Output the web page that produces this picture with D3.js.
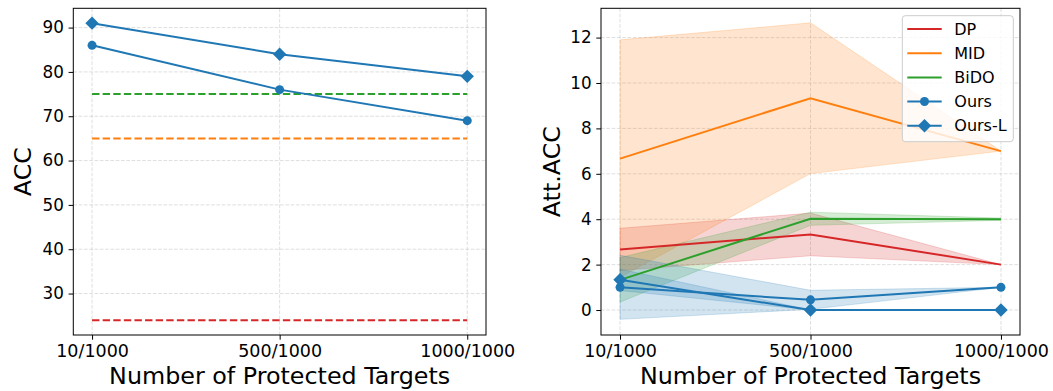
<!DOCTYPE html>
<html><head><meta charset="utf-8">
<script src="https://cdn.jsdelivr.net/npm/d3@7"></script>
<style>body{margin:0;background:#fff}svg{display:block}text{font-family:"DejaVu Sans",sans-serif}</style>
</head><body><svg id="c" width="1053" height="391"></svg>
<script>
const categories = ["10/1000","500/1000","1000/1000"];
// Left panel: ACC
const accOurs  = [86, 76, 69];
const accOursL = [91, 84, 79];
const accDP = 24, accMID = 65, accBiDO = 75;
const leftTicks = [30,40,50,60,70,80,90];
// Right panel: Att.ACC (mean, std)
const dpMean = [2.67, 3.33, 2.0],   dpStd = [0.93, 0.94, 0.0];
const midMean = [6.67, 9.33, 7.0],  midStd = [5.23, 3.32, 0.0];
const bidoMean = [1.33, 4.02, 4.0], bidoStd = [0.98, 0.29, 0.05];
const oursMean = [1.0, 0.45, 1.0],  oursStd = [1.41, 0.42, 0.0];
const oursLMean = [1.33, 0.0, 0.0], oursLStd = [0.47, 0.0, 0.0];
const rightTicks = [0,2,4,6,8,10,12];

const C = {blue:"#1f77b4", orange:"#ff7f0e", green:"#2ca02c", red:"#d62728"};
const svg = d3.select("#c");

function panel(cfg){
  const g = svg.append("g");
  const x = d3.scaleLinear().domain([-0.1, 2.1]).range([cfg.x0, cfg.x1]);
  const y = d3.scaleLinear().domain(cfg.ydom).range([cfg.y1, cfg.y0]);
  const grid = g.append("g").attr("stroke","#b0b0b0").attr("stroke-opacity",0.5).attr("stroke-width",0.8).attr("stroke-dasharray","3.7,1.6");
  categories.forEach((c,i)=>grid.append("line").attr("x1",x(i)).attr("x2",x(i)).attr("y1",cfg.y0).attr("y2",cfg.y1));
  cfg.ticks.forEach(t=>grid.append("line").attr("y1",y(t)).attr("y2",y(t)).attr("x1",cfg.x0).attr("x2",cfg.x1));
  const xa = g.append("g").attr("transform",`translate(0,${cfg.y1})`)
    .call(d3.axisBottom(x).tickValues([0,1,2]).tickFormat(i=>categories[i]).tickSize(4.7).tickPadding(4.7));
  const ya = g.append("g").attr("transform",`translate(${cfg.x0},0)`)
    .call(d3.axisLeft(y).tickValues(cfg.ticks).tickSize(4.7).tickPadding(4.7));
  [xa,ya].forEach(a=>{a.select(".domain").remove();a.selectAll("text").attr("fill","#000").style("font-family","DejaVu Sans");a.selectAll("line").attr("stroke","#000").attr("stroke-width",1);});
  xa.selectAll("text").attr("font-size","17.5px").attr("dy","0.71em");
  ya.selectAll("text").attr("font-size","16.8px");
  g.append("rect").attr("x",cfg.x0).attr("y",cfg.y0).attr("width",cfg.x1-cfg.x0).attr("height",cfg.y1-cfg.y0).attr("fill","none").attr("stroke","#000").attr("stroke-width",1);
  g.append("text").attr("x",(cfg.x0+cfg.x1)/2).attr("y",383.5).attr("text-anchor","middle").attr("font-size","23.8px").text("Number of Protected Targets");
  g.append("text").attr("transform",`translate(${cfg.ylx},${(cfg.y0+cfg.y1)/2}) rotate(-90)`).attr("text-anchor","middle").attr("font-size","23.8px").text(cfg.ylabel);
  const body = g.append("g");
  return {x,y,g:body};
}

function markers(g, x, y, vals, type){
  if(type==="circle"){
    g.selectAll(null).data(vals).enter().append("circle").attr("cx",(d,i)=>x(i)).attr("cy",d=>y(d)).attr("r",4.5).attr("fill",C.blue);
  } else {
    g.selectAll(null).data(vals).enter().append("path").attr("d",d3.symbol(d3.symbolSquare, 90)).attr("transform",(d,i)=>`translate(${x(i)},${y(d)}) rotate(45)`).attr("fill",C.blue);
  }
}

// Left
const L = panel({x0:73.3,x1:486,y0:8.3,y1:335,ydom:[20.65,94.35],ticks:leftTicks,ylabel:"ACC",ylx:30.7});
const line = (x,y)=>d3.line().x((d,i)=>x(i)).y(d=>y(d));
[[accBiDO,C.green],[accMID,C.orange],[accDP,C.red]].forEach(([v,c])=>{
  L.g.append("line").attr("x1",L.x(0)).attr("x2",L.x(2)).attr("y1",L.y(v)).attr("y2",L.y(v)).attr("stroke",c).attr("stroke-width",2).attr("stroke-dasharray","7.4,3.2");
});
L.g.append("path").attr("d",line(L.x,L.y)(accOurs)).attr("fill","none").attr("stroke",C.blue).attr("stroke-width",2);
markers(L.g,L.x,L.y,accOurs,"circle");
L.g.append("path").attr("d",line(L.x,L.y)(accOursL)).attr("fill","none").attr("stroke",C.blue).attr("stroke-width",2);
markers(L.g,L.x,L.y,accOursL,"diamond");

// Right
const R = panel({x0:601,x1:1020,y0:8.3,y1:335,ydom:[-1.1,13.29],ticks:rightTicks,ylabel:"Att.ACC",ylx:560});
const series = [
  {name:"DP",m:dpMean,s:dpStd,c:C.red},
  {name:"MID",m:midMean,s:midStd,c:C.orange},
  {name:"BiDO",m:bidoMean,s:bidoStd,c:C.green},
  {name:"Ours",m:oursMean,s:oursStd,c:C.blue,mk:"circle"},
  {name:"Ours-L",m:oursLMean,s:oursLStd,c:C.blue,mk:"diamond"}
];
series.forEach(sr=>{
  const area = d3.area().x((d,i)=>R.x(i)).y0((d,i)=>R.y(sr.m[i]-sr.s[i])).y1((d,i)=>R.y(sr.m[i]+sr.s[i]));
  R.g.append("path").attr("d",area(sr.m)).attr("fill",sr.c).attr("fill-opacity",0.2).attr("stroke",sr.c).attr("stroke-opacity",0.2).attr("stroke-width",1);
});
series.forEach(sr=>{
  R.g.append("path").attr("d",line(R.x,R.y)(sr.m)).attr("fill","none").attr("stroke",sr.c).attr("stroke-width",2);
  if(sr.mk) markers(R.g,R.x,R.y,sr.m,sr.mk);
});
// legend
const lg = R.g.append("g");
lg.append("rect").attr("x",902.3).attr("y",15.7).attr("width",111).attr("height",126).attr("rx",3).attr("fill","#fff").attr("fill-opacity",0.8).attr("stroke","#cccccc").attr("stroke-width",1);
series.forEach((sr,i)=>{
  const yy = 29.1 + i*24.15;
  lg.append("line").attr("x1",907.3).attr("x2",941.7).attr("y1",yy).attr("y2",yy).attr("stroke",sr.c).attr("stroke-width",2);
  if(sr.mk==="circle") lg.append("circle").attr("cx",924.5).attr("cy",yy).attr("r",4.5).attr("fill",sr.c);
  if(sr.mk==="diamond") lg.append("path").attr("d",d3.symbol(d3.symbolSquare,90)).attr("transform",`translate(924.5,${yy}) rotate(45)`).attr("fill",sr.c);
  lg.append("text").attr("x",954.3).attr("y",yy).attr("dy","0.36em").attr("font-size","16px").text(sr.name);
});
</script></body></html>
